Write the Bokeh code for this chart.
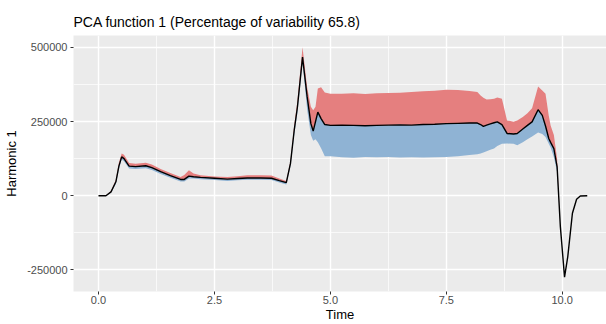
from bokeh.plotting import figure
from bokeh.models import FixedTicker, NumeralTickFormatter, Range1d
from bokeh.embed import file_html
from bokeh.resources import INLINE

# Time grid
time = [0.00, 0.16, 0.27, 0.375, 0.44, 0.50, 0.55, 0.66, 0.80, 1.02, 1.15, 1.34, 1.55, 1.77, 1.85,
        1.95, 2.05, 2.20, 2.50, 2.78, 3.00, 3.21, 3.50, 3.73, 3.90, 4.05, 4.14, 4.22, 4.29, 4.40,
        4.50, 4.58, 4.63, 4.68, 4.73, 4.80, 4.88, 5.00, 5.25, 5.50, 5.75, 6.00, 6.25, 6.50, 6.75,
        7.00, 7.25, 7.50, 7.75, 8.00, 8.17, 8.24, 8.30, 8.37, 8.45, 8.53, 8.60, 8.70, 8.81, 8.95,
        9.03, 9.15, 9.25, 9.35, 9.48, 9.57, 9.64, 9.71, 9.75, 9.82, 9.89, 9.96, 10.05, 10.12, 10.22,
        10.31, 10.39, 10.54]

# Mean harmonic curve
harmonic = [0, 0, 13000, 47000, 100000, 131000, 125000, 100000, 98000, 101000, 95000, 81000, 68000, 55000, 55000,
            66000, 64000, 62000, 59000, 56000, 58000, 60000, 60000, 59000, 51000, 44000, 109000, 220000, 299000, 467000,
            333000, 243000, 218000, 250000, 282000, 260000, 240000, 237000, 238000, 237000, 236000, 237000, 238000, 239000, 238000,
            240000, 241000, 243000, 244000, 245000, 245000, 240000, 234000, 238000, 242000, 246000, 249000, 240000, 210000, 208000,
            210000, 225000, 237000, 249000, 290000, 271000, 235000, 193000, 180000, 159000, 97000, -104000, -274000, -205000, -59000,
            -12000, -1000, 0]

# Upper (mean + perturbation)
upper = [0, 1000, 16000, 54000, 112000, 142000, 138000, 110000, 108000, 111000, 105000, 90000, 77000, 63000, 70000,
         86000, 75000, 69000, 65000, 63000, 66000, 69000, 69000, 68000, 58000, 50000, 118000, 235000, 320000, 500000,
         365000, 300000, 288000, 300000, 361000, 366000, 348000, 344000, 344000, 345000, 343000, 345000, 346000, 347000, 350000,
         352000, 354000, 357000, 356000, 353000, 350000, 338000, 330000, 324000, 325000, 327000, 331000, 327000, 254000, 249000,
         254000, 265000, 278000, 295000, 368000, 355000, 344000, 270000, 237000, 205000, 125000, -104000, -274000, -205000, -59000,
         -12000, -1000, 0]

# Lower (mean - perturbation)
lower = [0, -1000, 10000, 40000, 90000, 122000, 116000, 92000, 90000, 93000, 87000, 73000, 61000, 48000, 48000,
         58000, 58000, 56000, 53000, 50000, 52000, 54000, 54000, 53000, 45000, 38000, 100000, 205000, 280000, 450000,
         290000, 205000, 185000, 190000, 180000, 160000, 133000, 133000, 130000, 128000, 131000, 130000, 131000, 129000, 130000,
         129000, 130000, 131000, 133000, 137000, 140000, 142000, 146000, 150000, 155000, 159000, 168000, 175000, 176000, 175000,
         170000, 180000, 190000, 200000, 213000, 208000, 198000, 175000, 163000, 130000, 80000, -104000, -274000, -205000, -59000,
         -12000, -1000, 0]

x_ticks = [0, 2.5, 5, 7.5, 10]
x_minor = [-1.25, 1.25, 3.75, 6.25, 8.75, 11.25]
y_ticks = [-250000, 0, 250000, 500000]
y_minor = [-375000, -125000, 125000, 375000]

FONT = "Liberation Sans"

p = figure(width=606, height=324, output_backend="svg", toolbar_location=None,
           x_range=Range1d(-0.539, 10.955), y_range=Range1d(-322600, 540000),
           min_border_left=73, min_border_right=0, min_border_top=35, min_border_bottom=32,
           title="PCA function 1 (Percentage of variability 65.8)")

p.title.text_font = FONT
p.title.text_font_size = "14px"
p.title.text_font_style = "normal"
p.title.text_color = "black"
p.title.align = "left"
p.title.standoff = 11
p.title.text_line_height = 0.8

p.background_fill_color = "#EBEBEB"
p.border_fill_color = "white"
p.outline_line_color = None

p.xaxis.ticker = FixedTicker(ticks=x_ticks, minor_ticks=x_minor)
p.yaxis.ticker = FixedTicker(ticks=y_ticks, minor_ticks=y_minor)
p.xaxis.formatter = NumeralTickFormatter(format="0.0")
p.yaxis.formatter = NumeralTickFormatter(format="0")

p.xgrid.grid_line_color = "white"
p.ygrid.grid_line_color = "white"
p.xgrid.grid_line_width = 1.4
p.ygrid.grid_line_width = 1.4
p.xgrid.minor_grid_line_color = "white"
p.ygrid.minor_grid_line_color = "white"
p.xgrid.minor_grid_line_width = 0.7
p.ygrid.minor_grid_line_width = 0.7

for ax in (p.xaxis, p.yaxis):
    ax.axis_line_color = None
    ax.major_tick_line_color = "#333333"
    ax.major_tick_out = 3
    ax.major_tick_in = 0
    ax.minor_tick_line_color = None
    ax.major_label_text_font = FONT
    ax.major_label_text_font_size = "11px"
    ax.major_label_text_color = "#4D4D4D"
    ax.axis_label_text_font = FONT
    ax.axis_label_text_font_size = "13px"
    ax.axis_label_text_font_style = "normal"
    ax.axis_label_text_color = "black"

p.xaxis.major_label_standoff = 0
p.xaxis.axis_label_standoff = 0
p.yaxis.major_label_standoff = 2
p.yaxis.axis_label_standoff = 5

p.xaxis.axis_label = "Time"
p.yaxis.axis_label = "Harmonic 1"

p.varea(x=time, y1=harmonic, y2=upper, fill_color="#E57F7F", fill_alpha=1.0)
p.varea(x=time, y1=lower, y2=harmonic, fill_color="#8FB3D4", fill_alpha=1.0)
p.line(time, harmonic, line_color="black", line_width=1.4)

open("out.html", "w").write(file_html(p, INLINE))
